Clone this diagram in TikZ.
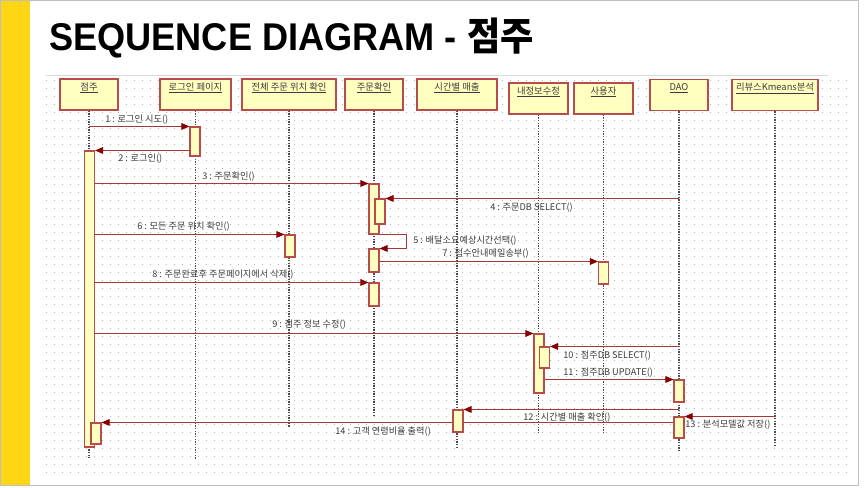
\documentclass[tikz,border=0pt]{standalone}
\usepackage{graphicx}
\usepackage{fontspec}
\setmainfont{Liberation Sans}
\newfontfamily\kr{Noto Sans CJK KR}
\usetikzlibrary{arrows.meta}
\definecolor{boxfill}{RGB}{255,255,192}
\definecolor{boxline}{RGB}{185,75,75}
\definecolor{msgline}{RGB}{170,55,55}
\definecolor{msghead}{RGB}{135,0,0}
\definecolor{titlebar}{RGB}{255,214,20}
\definecolor{labeltxt}{RGB}{60,60,60}
\pgfdeclarelayer{bg}
\pgfdeclarelayer{mid}
\pgfsetlayers{bg,mid,main}
\begin{document}
\begin{tikzpicture}[x=0.75pt,y=-0.75pt,
    lifebox/.style={draw=boxline,fill=boxfill,line width=1pt,inner xsep=0pt,inner ysep=2.25pt,
      text height=6pt,text depth=12.75pt,font=\kr\fontsize{7}{8}\selectfont,text=labeltxt},
    actbar/.style={draw=boxline,fill=boxfill,line width=0.8pt,inner sep=0pt,minimum width=7.5pt},
    lifeline/.style={draw=black!70,line width=0.8pt,dash pattern=on 1pt off 1pt},
    msg/.style={draw=msgline,line width=0.7pt,-{Triangle[length=6pt,width=5pt,color=msghead]}},
    msgtxt/.style={anchor=west,inner sep=0pt,font=\kr\fontsize{6.9}{8}\selectfont,text=labeltxt},
    griddot/.style={draw=black!30,line width=0.75pt,dash pattern=on 0.75pt off 5.25pt}]
    \useasboundingbox (0,0) rectangle (864,487);
    \begin{pgfonlayer}{bg}
    \fill[white] (0,0) rectangle (864,487);
    \draw[black!25] (0.5,0.5) rectangle (858.5,485.5);
    \fill[titlebar] (1,1) rectangle (30,485);
    \draw[black!15] (46,75) -- (828,75);
    \foreach \gy in {80,88,...,472}
      \draw[griddot] (46,\gy) -- (852,\gy);
    \end{pgfonlayer}
    \node[anchor=base west,inner sep=0pt,font=\bfseries\fontsize{29}{29}\selectfont] (title) at (49,50)
      {\scalebox{0.935}[1]{SEQUENCE DIAGRAM - {\kr\bfseries 점주}}};
    \node[lifebox,minimum width=43.5pt] (jeomju) at (89,94.5) {\underline{점주}};
    \node[lifebox,minimum width=53.25pt] (login) at (195.5,94.5) {\underline{로그인 페이지}};
    \node[lifebox,minimum width=70.5pt] (allpos) at (289,94.5) {\underline{전체 주문 위치 확인}};
    \node[lifebox,minimum width=43.5pt] (order) at (374,94.5) {\underline{주문확인}};
    \node[lifebox,minimum width=60pt] (sales) at (457,94.5) {\underline{시간별 매출}};
    \node[lifebox,minimum width=44.25pt] (myinfo) at (538.5,98.5) {\underline{내정보수정}};
    \node[lifebox,minimum width=44.25pt] (user) at (603.5,98.5) {\underline{사용자}};
    \node[lifebox,minimum width=43.5pt] (dao) at (679,95) {\underline{DAO}};
    \node[lifebox,minimum width=64.5pt] (review) at (775,95) {\underline{리뷰스Kmeans분석}};
    \node[actbar,minimum height=222pt] (jeomjuAct) at (89.5,299) {};
    \node[actbar,minimum height=15.75pt] (jeomjuAct2) at (96,433.5) {};
    \node[actbar,minimum height=21.75pt] (loginAct) at (195,141.5) {};
    \node[actbar,minimum height=37.5pt] (orderAct1) at (374,209) {};
    \node[actbar,minimum height=18.75pt] (orderAct1b) at (380,211.5) {};
    \node[actbar,minimum height=17.25pt] (orderAct2) at (374,260.5) {};
    \node[actbar,minimum height=17.25pt] (orderAct3) at (374,294.5) {};
    \node[actbar,minimum height=16.5pt] (allAct) at (290,246) {};
    \node[actbar,minimum height=16.5pt] (userAct) at (603.5,273) {};
    \node[actbar,minimum height=44.25pt] (infoAct) at (539,363.5) {};
    \node[actbar,minimum height=15.75pt] (infoAct2) at (544.5,357.5) {};
    \node[actbar,minimum height=16.5pt] (daoAct1) at (679,391) {};
    \node[actbar,minimum height=15.75pt] (daoAct2) at (679,427.5) {};
    \node[actbar,minimum height=16.5pt] (salesAct) at (458,421) {};
    \begin{pgfonlayer}{mid}
    \draw[lifeline] (jeomju) -- (jeomju |- 0,458);
    \draw[lifeline] (login) -- (login |- 0,460);
    \draw[lifeline] (allpos) -- (allpos |- 0,428);
    \draw[lifeline] (order) -- (order |- 0,415);
    \draw[lifeline] (sales) -- (sales |- 0,448);
    \draw[lifeline] (myinfo) -- (myinfo |- 0,433);
    \draw[lifeline] (user) -- (user |- 0,433);
    \draw[lifeline] (dao) -- (dao |- 0,450);
    \draw[lifeline] (review) -- (review |- 0,445);
    \draw[msg] (jeomju |- loginAct.north west) -- (loginAct.north west);
    \draw[msg] (loginAct.west |- jeomjuAct.north) -- (jeomjuAct.north east);
    \draw[msg] (jeomjuAct.east |- orderAct1.north) -- (orderAct1.north west);
    \draw[msg] (dao |- orderAct1b.north) -- (orderAct1b.north east);
    \draw[msg] (orderAct1.south east) -- ++(27,0) |- (orderAct2.north east);
    \draw[msg] (jeomjuAct.east |- allAct.north) -- (allAct.north west);
    \draw[msg] (orderAct2.east |- userAct.north) -- (userAct.north west);
    \draw[msg] (jeomjuAct.east |- orderAct3.north) -- (orderAct3.north west);
    \draw[msg] (jeomjuAct.east |- infoAct.north) -- (infoAct.north west);
    \draw[msg] (dao |- infoAct2.north) -- (infoAct2.north east);
    \draw[msg] (infoAct.east |- daoAct1.north) -- (daoAct1.north west);
    \draw[msg] (dao |- salesAct.north) -- (salesAct.north east);
    \draw[msg] (review |- daoAct2.north) -- (daoAct2.north east);
    \draw[msg] (daoAct2.west |- jeomjuAct2.north) -- (jeomjuAct2.north east);
    \end{pgfonlayer}
    \node[msgtxt] (m1) at (105,120) {1 : 로그인 시도()};
    \node[msgtxt] (m2) at (118,159) {2 : 로그인()};
    \node[msgtxt] (m3) at (202,177) {3 : 주문확인()};
    \node[msgtxt] (m4) at (490,208) {4 : 주문DB SELECT()};
    \node[msgtxt] (m5) at (413,241) {5 : 배달소요예상시간선택()};
    \node[msgtxt] (m6) at (137,227) {6 : 모든 주문 위치 확인()};
    \node[msgtxt] (m7) at (442,254) {7 : 접수안내메일송부()};
    \node[msgtxt] (m8) at (152,275) {8 : 주문완료후 주문페이지에서 삭제()};
    \node[msgtxt] (m9) at (272,325) {9 : 점주 정보 수정()};
    \node[msgtxt] (m10) at (563,356) {10 : 점주DB SELECT()};
    \node[msgtxt] (m11) at (563,373) {11 : 점주DB UPDATE()};
    \node[msgtxt] (m12) at (523,418) {12 : 시간별 매출 확인()};
    \node[msgtxt] (m13) at (685,425) {13 : 분석모델값 저장()};
    \node[msgtxt] (m14) at (335,432) {14 : 고객 연령비율 출력()};
\end{tikzpicture}
\end{document}
